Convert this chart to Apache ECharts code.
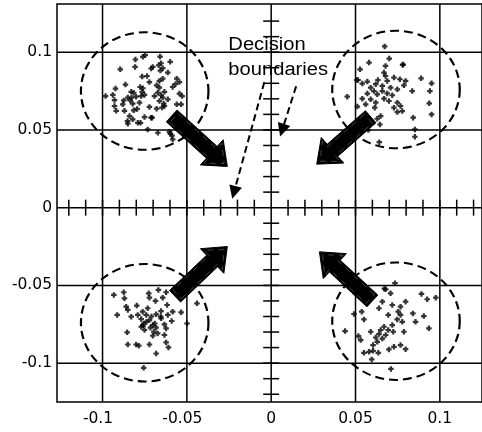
<!DOCTYPE html>
<html>
<head>
<meta charset="utf-8">
<script src="https://cdn.jsdelivr.net/npm/echarts@6/dist/echarts.min.js"></script>
<style>html,body{margin:0;padding:0;background:#fff}#c{width:482px;height:432px}</style>
</head>
<body>
<div id="c"></div>
<script>
// ---- data ----
const xTickLabels = [-0.1, -0.05, 0, 0.05, 0.1];
const yTickLabels = [-0.1, -0.05, 0, 0.05, 0.1];
const gridValues = [-0.1, -0.05, 0, 0.05, 0.1];
const centerTicks = [-0.12,-0.11,-0.1,-0.09,-0.08,-0.07,-0.06,-0.05,-0.04,-0.03,-0.02,-0.01,0.01,0.02,0.03,0.04,0.05,0.06,0.07,0.08,0.09,0.1,0.11,0.12];

const clusterTL = [[-0.0747,0.0981],[-0.0761,0.0970],[-0.0805,0.0953],[-0.0659,0.0972],[-0.0599,0.0938],[-0.0653,0.0929],[-0.0667,0.0916],[-0.0702,0.0905],[-0.0712,0.0895],[-0.0807,0.0905],[-0.0895,0.0890],[-0.0643,0.0897],[-0.0657,0.0882],[-0.0613,0.0869],[-0.0765,0.0843],[-0.0736,0.0847],[-0.0643,0.0830],[-0.0663,0.0815],[-0.0560,0.0830],[-0.0722,0.0808],[-0.0544,0.0808],[-0.0568,0.0794],[-0.0679,0.0787],[-0.0864,0.0792],[-0.0777,0.0776],[-0.0761,0.0768],[-0.0663,0.0772],[-0.0584,0.0776],[-0.0923,0.0766],[-0.0830,0.0745],[-0.0815,0.0739],[-0.0765,0.0745],[-0.0751,0.0725],[-0.0771,0.0718],[-0.0672,0.0740],[-0.0633,0.0745],[-0.0544,0.0734],[-0.0982,0.0718],[-0.0939,0.0725],[-0.0692,0.0718],[-0.0653,0.0723],[-0.0643,0.0708],[-0.0828,0.0708],[-0.0850,0.0708],[-0.0801,0.0714],[-0.0528,0.0718],[-0.0929,0.0692],[-0.0874,0.0690],[-0.0836,0.0690],[-0.0663,0.0686],[-0.0613,0.0697],[-0.0781,0.0675],[-0.0880,0.0665],[-0.0821,0.0669],[-0.0633,0.0654],[-0.0647,0.0644],[-0.0560,0.0665],[-0.0534,0.0665],[-0.0722,0.0648],[-0.0929,0.0654],[-0.0795,0.0635],[-0.0815,0.0626],[-0.0870,0.0623],[-0.0919,0.0623],[-0.0840,0.0589],[-0.0751,0.0583],[-0.0706,0.0579],[-0.0679,0.0637],[-0.0637,0.0669],[-0.0791,0.0546],[-0.0775,0.0546],[-0.0850,0.0540],[-0.0821,0.0568],[-0.0732,0.0503],[-0.0672,0.0482],[-0.0598,0.0475],[-0.0584,0.0439],[-0.0588,0.0463],[-0.0603,0.0488],[-0.0852,0.0557],[-0.0712,0.0579]];

const clusterTR = [[0.0673,0.1037],[0.0700,0.0959],[0.0580,0.0933],[0.0783,0.0921],[0.0678,0.0912],[0.0527,0.0890],[0.0669,0.0869],[0.0678,0.0847],[0.0728,0.0837],[0.0889,0.0832],[0.0515,0.0821],[0.0570,0.0811],[0.0633,0.0821],[0.0688,0.0815],[0.0763,0.0826],[0.0797,0.0815],[0.0540,0.0798],[0.0620,0.0794],[0.0659,0.0783],[0.0708,0.0772],[0.0787,0.0787],[0.0590,0.0772],[0.0748,0.0761],[0.0609,0.0750],[0.0659,0.0750],[0.0836,0.0750],[0.0570,0.0734],[0.0629,0.0729],[0.0688,0.0735],[0.0718,0.0723],[0.0451,0.0714],[0.0540,0.0701],[0.0590,0.0697],[0.0669,0.0701],[0.0698,0.0686],[0.0748,0.0675],[0.0620,0.0675],[0.0560,0.0665],[0.0767,0.0654],[0.0728,0.0643],[0.0614,0.0643],[0.0777,0.0621],[0.0748,0.0615],[0.0649,0.0589],[0.0842,0.0579],[0.0629,0.0572],[0.0511,0.0650],[0.0951,0.0800],[0.0941,0.0750],[0.0937,0.0671],[0.0951,0.0600],[0.0852,0.0503],[0.0852,0.0456],[0.0641,0.0421],[0.0576,0.0499],[0.0645,0.0535],[0.0507,0.0821],[0.0779,0.0918]];

const clusterBL = [[-0.0933,-0.0561],[-0.0874,-0.0544],[-0.0870,-0.0583],[-0.0726,-0.0551],[-0.0722,-0.0579],[-0.0669,-0.0529],[-0.0623,-0.0544],[-0.0643,-0.0579],[-0.0860,-0.0637],[-0.0797,-0.0630],[-0.0732,-0.0647],[-0.0617,-0.0626],[-0.0850,-0.0658],[-0.0762,-0.0669],[-0.0653,-0.0665],[-0.0584,-0.0669],[-0.0534,-0.0673],[-0.0913,-0.0690],[-0.0830,-0.0701],[-0.0791,-0.0690],[-0.0741,-0.0690],[-0.0682,-0.0686],[-0.0613,-0.0690],[-0.0771,-0.0716],[-0.0722,-0.0723],[-0.0653,-0.0712],[-0.0590,-0.0729],[-0.0756,-0.0745],[-0.0702,-0.0755],[-0.0633,-0.0751],[-0.0771,-0.0766],[-0.0682,-0.0772],[-0.0716,-0.0772],[-0.0623,-0.0777],[-0.0751,-0.0787],[-0.0696,-0.0798],[-0.0854,-0.0802],[-0.0673,-0.0809],[-0.0633,-0.0819],[-0.0702,-0.0824],[-0.0850,-0.0880],[-0.0801,-0.0880],[-0.0785,-0.0888],[-0.0722,-0.0880],[-0.0623,-0.0867],[-0.0609,-0.0899],[-0.0682,-0.0938],[-0.0756,-0.1030],[-0.0499,-0.0745],[-0.0686,-0.0600],[-0.0440,-0.0615],[-0.0740,-0.0735],[-0.0710,-0.0700],[-0.0760,-0.0760],[-0.0690,-0.0745],[-0.0655,-0.0700]];

const clusterBR = [[0.0734,-0.0486],[0.0679,-0.0525],[0.0708,-0.0551],[0.0891,-0.0555],[0.0925,-0.0589],[0.0659,-0.0605],[0.0718,-0.0626],[0.0797,-0.0605],[0.0639,-0.0647],[0.0767,-0.0637],[0.0753,-0.0669],[0.0537,-0.0669],[0.0491,-0.0684],[0.0694,-0.0690],[0.0767,-0.0690],[0.0840,-0.0680],[0.0905,-0.0697],[0.0550,-0.0719],[0.0747,-0.0719],[0.0777,-0.0734],[0.0856,-0.0734],[0.0718,-0.0755],[0.0669,-0.0766],[0.0935,-0.0776],[0.0649,-0.0787],[0.0694,-0.0787],[0.0438,-0.0794],[0.0590,-0.0798],[0.0724,-0.0798],[0.0787,-0.0798],[0.0639,-0.0813],[0.0679,-0.0819],[0.0517,-0.0826],[0.0620,-0.0835],[0.0659,-0.0842],[0.0531,-0.0852],[0.0629,-0.0863],[0.0604,-0.0884],[0.0728,-0.0895],[0.0767,-0.0884],[0.0797,-0.0910],[0.0698,-0.0912],[0.0604,-0.0921],[0.0550,-0.0934],[0.0580,-0.0927],[0.0635,-0.0934],[0.0596,-0.0976],[0.0710,-0.1037],[0.0671,-0.0521],[0.0976,-0.0579]];

// circles: [cx, cy, r]
const circles = [[-0.075,0.075,0.0378],[0.074,0.076,0.0378],[-0.075,-0.074,0.0378],[0.074,-0.073,0.0378]];
// thick arrows: [x_tail, y_tail, x_tip, y_tip]
const bigArrows = [[-0.059,0.059,-0.026,0.0265],[0.059,0.0585,0.027,0.028],[-0.057,-0.057,-0.026,-0.025],[0.060,-0.060,0.0286,-0.0284]];
// dashed annotation arrows: [x_start, y_start, x_tip, y_tip]
const dashArrows = [[-0.0041,0.0806,-0.0231,0.0058],[0.0148,0.0781,0.0053,0.0458]];
const annotationLines = ['Decision', 'boundaries'];
const annotationPos = [[-0.0254,0.1045],[-0.0254,0.0884]];

const xMin = -0.127, xMax = 0.125, yMin = -0.125, yMax = 0.131;

// ---- chart ----
const chart = echarts.init(document.getElementById('c'), null, {renderer:'canvas'});

function arrowPoly(p0, p1, bw, hw, hl) {
  const dx = p1[0]-p0[0], dy = p1[1]-p0[1];
  const L = Math.hypot(dx, dy);
  const ux = dx/L, uy = dy/L, nx = -uy, ny = ux;
  const bx = p1[0]-ux*hl, by = p1[1]-uy*hl;
  return [[p0[0]+nx*bw,p0[1]+ny*bw],[bx+nx*bw,by+ny*bw],[bx+nx*hw,by+ny*hw],[p1[0],p1[1]],
          [bx-nx*hw,by-ny*hw],[bx-nx*bw,by-ny*bw],[p0[0]-nx*bw,p0[1]-ny*bw]];
}

const plusSymbol = 'path://M3,0H7V3H10V7H7V10H3V7H0V3H3Z';
const labelFont = '"DejaVu Sans", sans-serif';

function scatterSeries(d) {
  return {type:'scatter', data:d, symbol:plusSymbol, symbolSize:5.5, itemStyle:{color:'#000'}, z:5, silent:true};
}

const option = {
  animation:false,
  backgroundColor:'#fff',
  grid:{left:57, top:4, width:426, height:398, show:true, borderColor:'#000', borderWidth:1.5, backgroundColor:'transparent'},
  xAxis:{type:'value', min:xMin, max:xMax, splitLine:{show:false}, axisLine:{show:false}, axisTick:{show:false},
    axisLabel:{customValues:xTickLabels, color:'#000', fontFamily:labelFont, fontSize:15.5, margin:9,
      formatter:function(v){ const s = String(v); return v < 0 ? '{n|' + s + '}' : s; },
      rich:{n:{color:'#000', fontFamily:labelFont, fontSize:15.5, padding:[0,9,0,0]}}}},
  yAxis:{type:'value', min:yMin, max:yMax, splitLine:{show:false}, axisLine:{show:false}, axisTick:{show:false},
    axisLabel:{customValues:yTickLabels, color:'#000', fontFamily:labelFont, fontSize:15.5, margin:5,
      formatter:function(v){ return String(v); }}},
  series:[
    {type:'custom', data:gridValues.map(v=>[v,v]), z:1, silent:true,
      renderItem:function(params, api){
        const v = api.value(0);
        const a = api.coord([v, yMin]), b = api.coord([v, yMax]);
        const c = api.coord([xMin, v]), d = api.coord([xMax, v]);
        const st = {stroke:'#000', lineWidth:1.5};
        return {type:'group', children:[
          {type:'line', shape:{x1:a[0], y1:a[1], x2:b[0], y2:b[1]}, style:st},
          {type:'line', shape:{x1:c[0], y1:c[1], x2:d[0], y2:d[1]}, style:st}
        ]};
      }},
    {type:'custom', data:centerTicks.map(v=>[v,v]), z:1, silent:true,
      renderItem:function(params, api){
        const v = api.value(0);
        const p = api.coord([v, 0]), q = api.coord([0, v]);
        const st = {stroke:'#000', lineWidth:1.5};
        return {type:'group', children:[
          {type:'line', shape:{x1:p[0], y1:p[1]-8, x2:p[0], y2:p[1]+8}, style:st},
          {type:'line', shape:{x1:q[0]-8, y1:q[1], x2:q[0]+8, y2:q[1]}, style:st}
        ]};
      }},
    {type:'custom', data:circles, z:3, silent:true,
      renderItem:function(params, api){
        const c = api.coord([api.value(0), api.value(1)]);
        const r = api.value(2);
        const rx = api.size([r, 0])[0], ry = api.size([0, r])[1];
        return {type:'circle', x:c[0], y:c[1], scaleY:ry/rx, shape:{cx:0, cy:0, r:rx},
          style:{fill:null, stroke:'#000', lineWidth:2.2, lineDash:[9,5]}};
      }},
    scatterSeries(clusterTL),
    scatterSeries(clusterTR),
    scatterSeries(clusterBL),
    scatterSeries(clusterBR),
    {type:'custom', data:bigArrows, z:8, silent:true, encode:{x:[0,2], y:[1,3]},
      renderItem:function(params, api){
        const p0 = api.coord([api.value(0), api.value(1)]);
        const p1 = api.coord([api.value(2), api.value(3)]);
        const outer = arrowPoly(p0, p1, 8, 17, 21);
        const dx = p1[0]-p0[0], dy = p1[1]-p0[1], L = Math.hypot(dx, dy);
        const ux = dx/L, uy = dy/L;
        const ip0 = [p0[0]+ux*3, p0[1]+uy*3], ip1 = [p1[0]-ux*4.5, p1[1]-uy*4.5];
        const inner = arrowPoly(ip0, ip1, 6, 13.5, 15);
        return {type:'group', children:[
          {type:'polygon', shape:{points:outer}, style:{fill:'#000', stroke:'#000', lineWidth:1}},
          {type:'polygon', shape:{points:inner}, style:{fill:null, stroke:'rgba(255,255,255,0.45)', lineWidth:0.6, lineDash:[6,5]}}
        ]};
      }},
    {type:'custom', data:dashArrows, z:8, silent:true, encode:{x:[0,2], y:[1,3]},
      renderItem:function(params, api){
        const p0 = api.coord([api.value(0), api.value(1)]);
        const p1 = api.coord([api.value(2), api.value(3)]);
        const dx = p1[0]-p0[0], dy = p1[1]-p0[1], L = Math.hypot(dx, dy);
        const ux = dx/L, uy = dy/L, nx = -uy, ny = ux;
        const hl = 13, hw = 6.5;
        const bx = p1[0]-ux*hl, by = p1[1]-uy*hl;
        return {type:'group', children:[
          {type:'line', shape:{x1:p0[0], y1:p0[1], x2:bx, y2:by}, style:{stroke:'#000', lineWidth:2, lineDash:[7,4]}},
          {type:'polygon', shape:{points:[[p1[0],p1[1]],[bx+nx*hw,by+ny*hw],[bx-nx*hw,by-ny*hw]]}, style:{fill:'#000'}}
        ]};
      }},
    {type:'custom', data:annotationPos, z:9, silent:true,
      renderItem:function(params, api){
        const c = api.coord([api.value(0), api.value(1)]);
        return {type:'text', x:c[0], y:c[1], scaleX:1.12,
          style:{text:annotationLines[params.dataIndex], fill:'#000', font:'18px "Liberation Sans", Arial, sans-serif', align:'left', verticalAlign:'middle'}};
      }}
  ]
};
chart.setOption(option);
</script>
</body>
</html>
